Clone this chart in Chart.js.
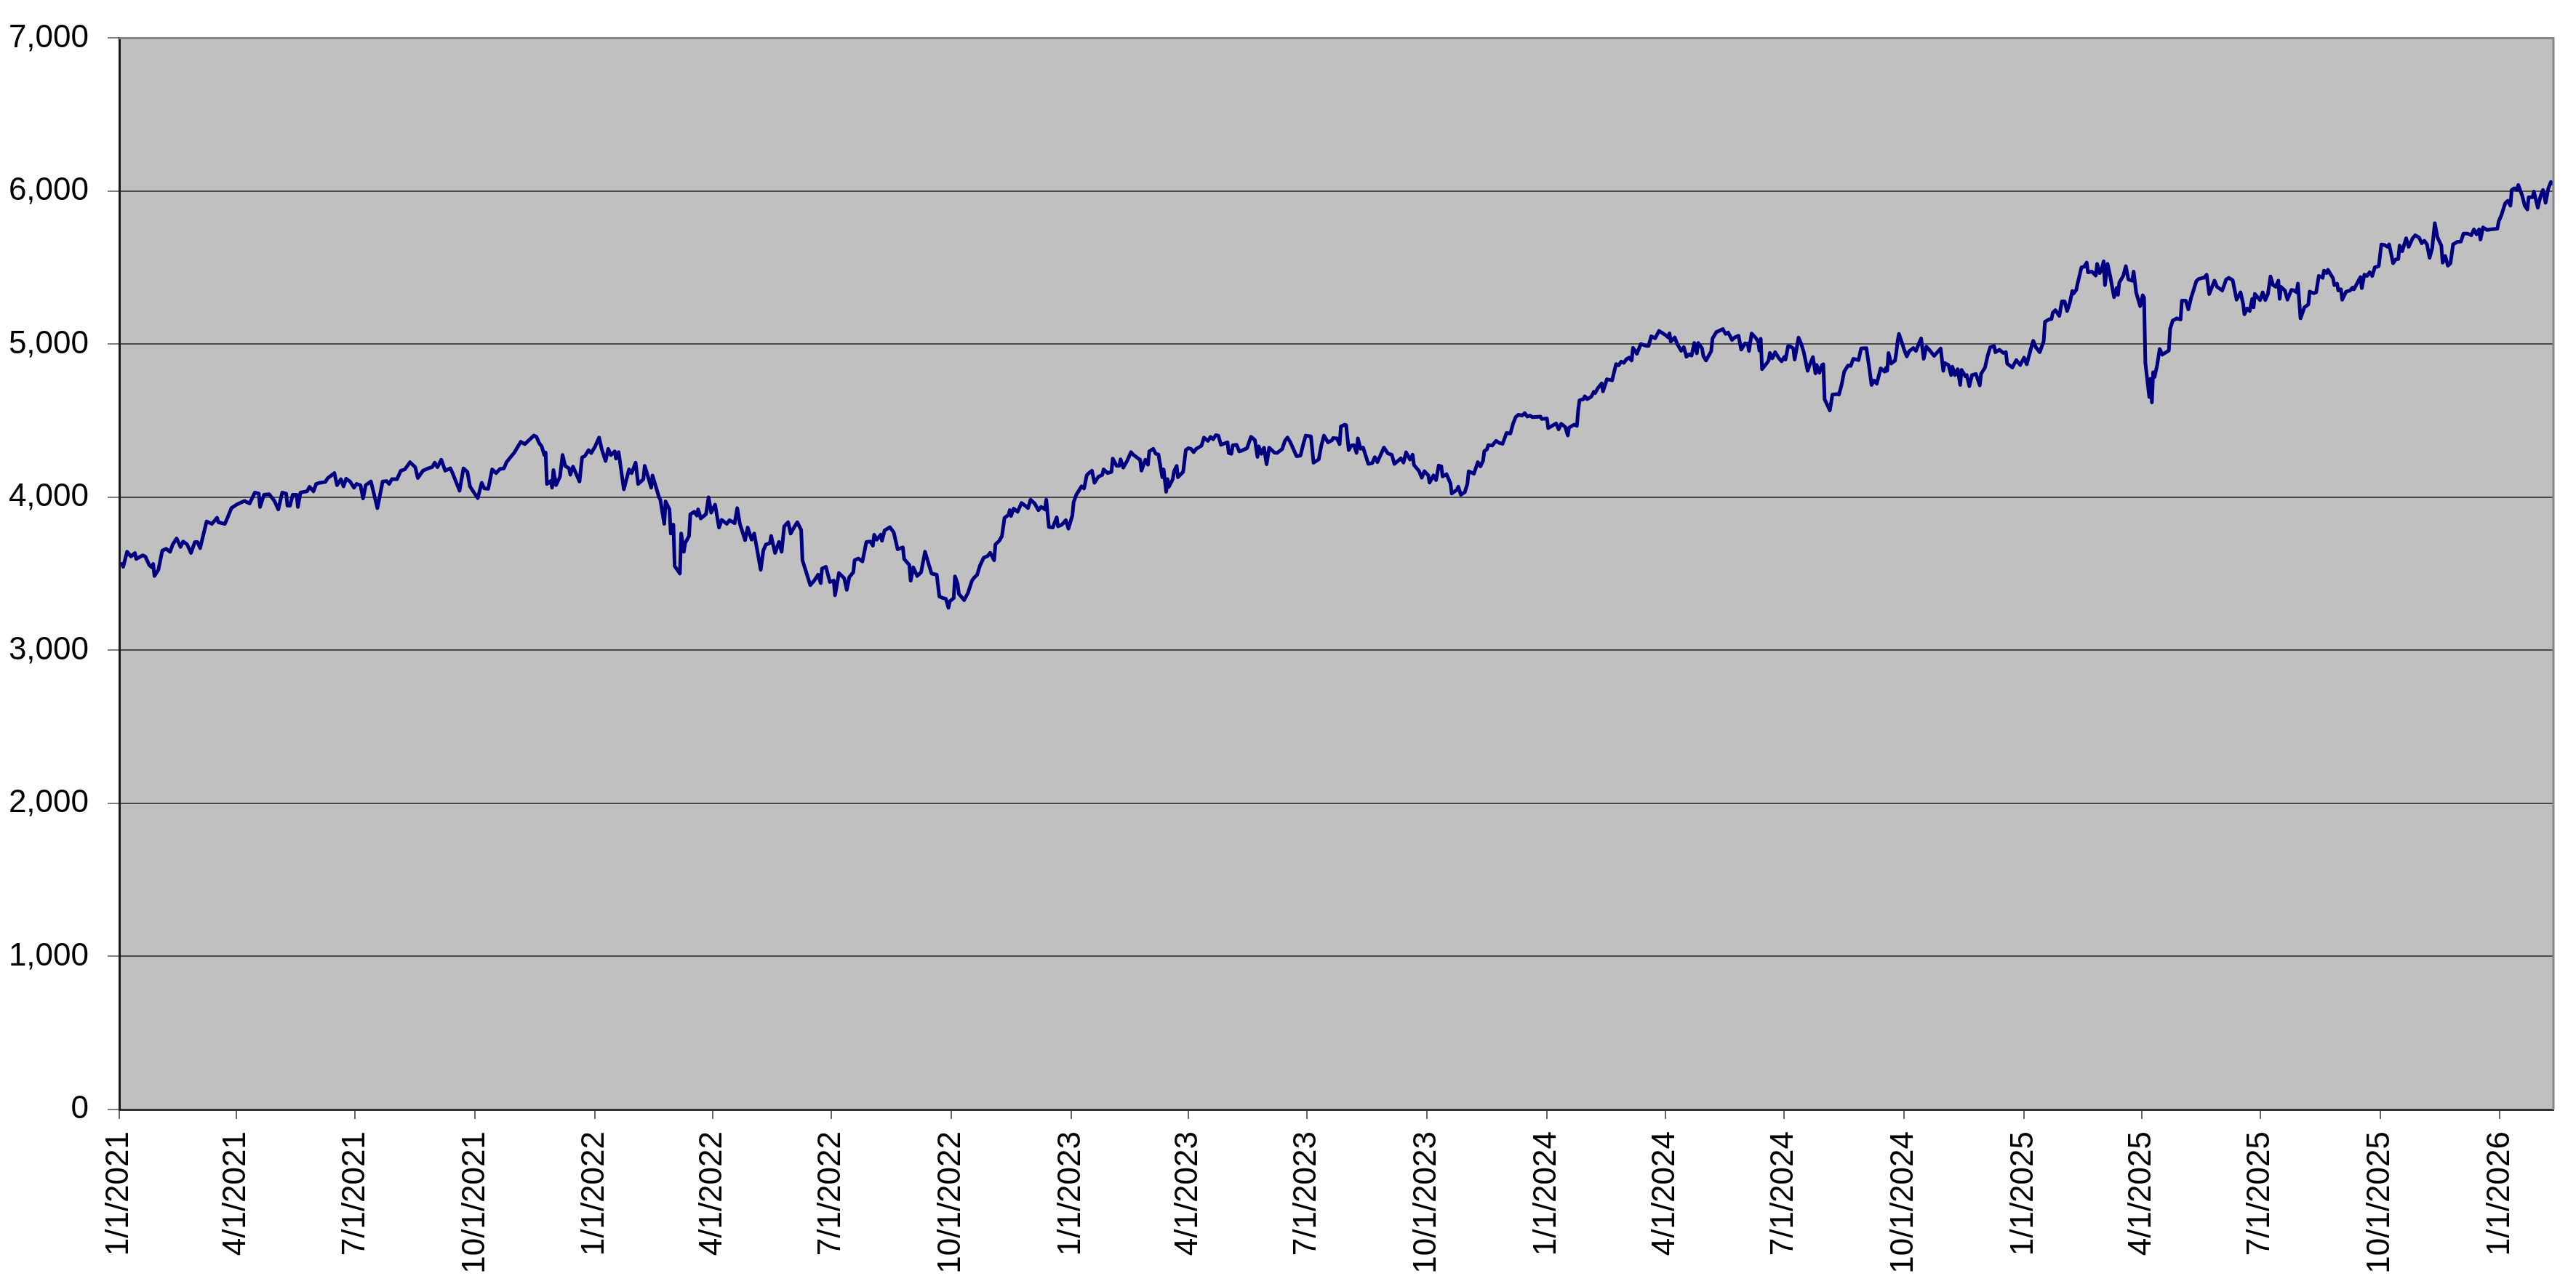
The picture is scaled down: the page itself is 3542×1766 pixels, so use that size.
<!DOCTYPE html>
<html lang="en">
<head>
    <meta charset="UTF-8">
    <title>Index level 2021 - 2026</title>
    <style>
        body {
            margin: 0;
            padding: 0;
            background-color: #ffffff;
        }

        .chart-wrap {
            width: 3542px;
            height: 1766px;
        }
    </style>
</head>
<body>
    <div class="chart-wrap">
        <canvas id="indexChart" width="3542" height="1766"></canvas>
    </div>

    <script src="https://cdn.jsdelivr.net/npm/chart.js"></script>
    <script>
        // trading days, counted in days since 1/1/2021
        const days = [
            2, 3, 6, 9, 12, 13, 18, 20, 23, 25,
            26, 27, 30, 33, 36, 39, 41, 44, 47, 49,
            52, 55, 58, 60, 62, 67, 71, 75, 76, 81,
            83, 86, 90, 96, 100, 104, 107, 108, 111, 115,
            119, 122, 125, 128, 129, 131, 133, 136, 137, 139,
            144, 146, 149, 151, 154, 158, 160, 165, 167, 170,
            172, 174, 177, 180, 182, 185, 187, 189, 193, 198,
            202, 205, 207, 209, 213, 216, 219, 223, 227, 229,
            233, 237, 240, 242, 244, 247, 250, 254, 256, 261,
            264, 267, 269, 272, 275, 278, 280, 283, 286, 289,
            292, 295, 297, 300, 303, 308, 311, 315,

            318, 320, 322, 324, 326, 327, 328, 331, 332, 333,
            335, 338, 340, 342, 345, 346, 348, 353, 355, 357,
            360, 362, 365, 368, 370, 373, 375, 377, 380, 381,
            383, 387, 391, 393, 396, 398, 402, 403, 406, 408,
            409, 414, 415, 418, 419, 422, 423, 425, 426, 430,
            431, 433, 434, 437, 438, 441, 443, 444, 446, 450,
            452, 454, 457, 460, 462, 466, 468, 472, 474, 476,
            480, 482, 485, 487, 492, 494, 496, 499, 500, 503,
            506, 508, 510, 513, 515, 517, 520, 523, 524, 530,
            533, 536, 538, 539, 542, 545, 548, 549, 552, 556,
            558, 560, 563, 564, 567, 570, 573, 576, 578, 579,
            581, 584, 585, 587, 591, 594, 597, 601, 602, 606,
            607, 609, 612, 615, 618, 623,

            627, 629, 632, 634, 636, 637, 640, 641, 643, 644,
            648, 651, 654, 656, 658, 660, 663, 666, 668, 671,
            672, 675, 677, 679, 682, 683, 684, 686, 689, 692,
            695, 697, 699, 702, 705, 707, 710, 711, 713, 716,
            719, 720, 723, 726, 728, 731, 732, 734, 736, 738,
            740, 742, 743, 746, 748, 751, 754, 755, 758, 761,
            762, 765, 767, 768, 770, 773, 776, 778, 781, 783,
            784, 787, 789, 790, 793, 795, 797, 800, 801, 803,
            804, 805, 808, 809, 811, 812, 816, 818, 820, 822,
            824, 826, 830, 832, 835, 837, 839, 841, 843, 845,
            850, 851, 853, 854, 857, 859, 861, 865, 868, 871,
            873, 874, 876, 878, 880, 882, 886, 888, 892, 894,
            896, 898, 903, 906, 908, 910, 914, 916, 920, 922,
            924, 927, 930, 931, 934, 936, 937, 940,

            941, 943, 945, 947, 949, 950, 952, 954, 958, 961,
            963, 965, 970, 973, 976, 978, 983, 985, 987, 990,
            992, 993, 997, 999, 1001, 1004, 1005, 1008, 1010, 1012,
            1014, 1015, 1018, 1021, 1022, 1026, 1027, 1029, 1032, 1034,
            1035, 1039, 1042, 1044, 1046, 1047, 1049, 1050, 1053, 1056,
            1058, 1061, 1064, 1067, 1069, 1071, 1073, 1076, 1078, 1080,
            1082, 1084, 1090, 1091, 1095, 1096, 1102, 1104, 1106, 1109,
            1111, 1112, 1116, 1118, 1119, 1120, 1123, 1124, 1126, 1129,
            1131, 1132, 1134, 1137, 1138, 1141, 1145, 1148, 1150, 1152,
            1154, 1156, 1158, 1160, 1161, 1164, 1167, 1171, 1173, 1175,
            1178, 1181, 1186, 1188, 1189, 1190, 1193, 1195, 1198, 1200,
            1202, 1204, 1206, 1208, 1210, 1211, 1214, 1215, 1217, 1221,
            1222, 1225, 1227, 1230, 1232, 1234, 1237, 1239, 1242, 1244,
            1247,

            1249, 1250, 1252, 1255, 1257, 1258, 1259, 1260, 1264, 1265,
            1266, 1268, 1270, 1273, 1275, 1277, 1278, 1280, 1282, 1284,
            1285, 1288, 1290, 1292, 1295, 1296, 1299, 1301, 1302, 1304,
            1306, 1307, 1308, 1312, 1314, 1318, 1319, 1321, 1323, 1326,
            1328, 1330, 1334, 1336, 1340, 1342, 1344, 1346, 1348, 1351,
            1354, 1355, 1356, 1357, 1359, 1362, 1363, 1364, 1365, 1368,
            1369, 1371, 1373, 1376, 1378, 1381, 1382, 1384, 1386, 1389,
            1392, 1397, 1399, 1400, 1403, 1405, 1406, 1408, 1410, 1412,
            1413, 1416, 1417, 1419, 1421, 1424, 1427, 1428, 1431, 1433,
            1435, 1438, 1439, 1442, 1445, 1447, 1448, 1452, 1455, 1458,
            1461, 1463, 1466, 1468, 1470, 1473, 1476, 1477, 1480, 1482,
            1483, 1485, 1488, 1490, 1492, 1494, 1496, 1498, 1499, 1501,
            1502, 1505, 1507, 1509, 1510, 1513, 1516, 1517, 1519, 1520,
            1522, 1523, 1525, 1527, 1530, 1532, 1533, 1534, 1537, 1539,
            1541, 1544, 1545, 1547, 1550, 1552, 1553, 1554, 1557, 1558,
            1559,

            1560, 1561, 1563, 1565, 1567, 1570, 1572, 1573, 1575, 1578,
            1581, 1582, 1585, 1587, 1589, 1591, 1593, 1595, 1598, 1599,
            1601, 1603, 1607, 1609, 1613, 1616, 1618, 1621, 1624, 1627,
            1629, 1630, 1632, 1634, 1636, 1637, 1638, 1642, 1644, 1646,
            1648, 1650, 1652, 1654, 1656, 1657, 1658, 1661, 1663, 1666,
            1668, 1670, 1671, 1673, 1676, 1679, 1680, 1683, 1685, 1687,
            1690, 1691, 1693, 1694, 1698, 1699, 1701, 1702, 1704, 1705,
            1708, 1711, 1713, 1714, 1717, 1719, 1720, 1722, 1724, 1726,
            1728, 1730, 1733, 1735, 1737, 1740, 1741, 1744, 1746, 1748,
            1749, 1751, 1754, 1756, 1759, 1761, 1764, 1766, 1768, 1770,
            1772, 1774, 1776, 1778, 1781, 1782, 1784, 1786, 1788, 1790,
            1793, 1796, 1798, 1801, 1804, 1806, 1808, 1810, 1811, 1813,
            1816, 1819, 1824, 1825, 1827, 1830, 1832, 1834, 1835, 1837,
            1839, 1840, 1843, 1845, 1847, 1848, 1851, 1852, 1855, 1857,
            1859, 1861, 1863, 1865, 1867
        ];

        const values = [
            3565, 3546, 3644, 3613, 3636, 3597, 3621, 3613, 3557, 3542,
            3565, 3486, 3526, 3652, 3663, 3644, 3692, 3731, 3676, 3711,
            3692, 3636, 3708, 3708, 3668, 3842, 3826, 3866, 3837, 3826,
            3866, 3929, 3952, 3976, 3960, 4031, 4024, 3937, 4016, 4020,
            3976, 3921, 4031, 4024, 3945, 3945, 4016, 4016, 3937, 4031,
            4039, 4068, 4039, 4087, 4095, 4100, 4126, 4158, 4079, 4118,
            4071, 4121, 4103, 4063, 4087, 4079, 3992, 4079, 4103, 3929,
            4103, 4106, 4087, 4118, 4118, 4174, 4182, 4229, 4197, 4126,
            4174, 4189, 4197, 4226, 4197, 4245, 4174, 4189, 4150, 4043,
            4189, 4166, 4071, 4031, 3995, 4095, 4058, 4055, 4182, 4158,
            4185, 4189, 4229, 4261, 4292, 4363, 4347, 4379,

            4403, 4395, 4355, 4332, 4276, 4292, 4087, 4106, 4063, 4178,
            4079, 4134, 4276, 4205, 4189, 4147, 4200, 4103, 4261, 4268,
            4308, 4289, 4332, 4390, 4316, 4237, 4316, 4276, 4300, 4253,
            4295, 4052, 4182, 4158, 4226, 4087, 4118, 4205, 4121, 4063,
            4142, 4000, 3984, 3826, 3973, 3921, 3763, 3821, 3550, 3502,
            3763, 3644, 3700, 3747, 3889, 3905, 3881, 3921, 3862, 3889,
            4000, 3900, 3952, 3802, 3852, 3826, 3850, 3831, 3929, 3826,
            3720, 3802, 3723, 3763, 3526, 3652, 3692, 3700, 3747, 3636,
            3708, 3644, 3810, 3837, 3763, 3795, 3837, 3787, 3589, 3426,
            3455, 3494, 3439, 3534, 3546, 3447, 3455, 3360, 3505, 3471,
            3395, 3479, 3510, 3589, 3600, 3581, 3708, 3711, 3684, 3755,
            3723, 3755, 3716, 3783, 3805, 3771, 3660, 3673, 3597, 3557,
            3455, 3542, 3486, 3510, 3644, 3502,

            3494, 3352, 3341, 3336, 3278, 3320, 3341, 3483, 3436, 3368,
            3328, 3376, 3455, 3478, 3494, 3550, 3605, 3616, 3637, 3589,
            3692, 3716, 3747, 3866, 3885, 3916, 3878, 3926, 3905, 3963,
            3944, 3929, 3984, 3960, 3916, 3937, 3921, 3984, 3806, 3802,
            3869, 3810, 3821, 3850, 3795, 3881, 3968, 4016, 4043, 4071,
            4058, 4142, 4153, 4174, 4095, 4134, 4147, 4182, 4158, 4166,
            4253, 4205, 4205, 4248, 4194, 4237, 4295, 4276, 4257, 4245,
            4174, 4245, 4213, 4300, 4316, 4284, 4280, 4131, 4182, 4036,
            4118, 4068, 4118, 4169, 4205, 4131, 4166, 4308, 4321, 4316,
            4295, 4316, 4336, 4390, 4368, 4395, 4379, 4406, 4403, 4343,
            4359, 4289, 4284, 4339, 4343, 4300, 4305, 4321, 4395, 4374,
            4264, 4332, 4284, 4324, 4216, 4324, 4292, 4289, 4316, 4368,
            4390, 4363, 4268, 4273, 4343, 4403, 4398, 4226, 4248, 4339,
            4403, 4359, 4371, 4387, 4384, 4347, 4463, 4474,

            4471, 4309, 4338, 4341, 4290, 4385, 4317, 4325, 4218, 4223,
            4262, 4230, 4325, 4286, 4278, 4218, 4254, 4227, 4294, 4246,
            4278, 4211, 4170, 4128, 4170, 4143, 4096, 4143, 4112, 4207,
            4202, 4136, 4151, 4091, 4025, 4049, 4069, 4017, 4033, 4088,
            4170, 4154, 4230, 4202, 4238, 4302, 4313, 4341, 4338, 4369,
            4357, 4349, 4420, 4417, 4480, 4523, 4539, 4534, 4550, 4527,
            4534, 4523, 4527, 4512, 4515, 4452, 4483, 4444, 4480, 4460,
            4404, 4455, 4475, 4467, 4570, 4633, 4641, 4660, 4641, 4657,
            4689, 4681, 4712, 4744, 4692, 4771, 4764, 4870, 4862, 4886,
            4878, 4902, 4913, 4894, 4976, 4938, 5001, 4989, 4989, 5052,
            5039, 5087, 5060, 5044, 5071, 5017, 5044, 5001, 4957, 4981,
            4918, 4934, 4926, 5008, 4941, 5008, 4973, 4922, 4894, 4954,
            5036, 5080, 5087, 5099, 5068, 5076, 5028, 5044, 5055, 4965,
            5005,

            5003, 4956, 5070, 5043, 5019, 4959, 5035, 4837, 4880, 4893,
            4943, 4908, 4948, 4908, 4889, 4916, 4900, 4988, 4984, 4972,
            4900, 5043, 5003, 4948, 4826, 4853, 4916, 4810, 4864, 4813,
            4864, 4869, 4640, 4568, 4671, 4674, 4671, 4734, 4821, 4861,
            4858, 4905, 4896, 4972, 4975, 4861, 4734, 4763, 4742, 4842,
            4821, 4845, 4826, 4943, 4874, 4893, 4948, 5022, 5067, 4991,
            4964, 4921, 4956, 4975, 4956, 5019, 5038, 4905, 4984, 4956,
            4924, 4972, 4826, 4877, 4864, 4798, 4853, 4798, 4837, 4734,
            4832, 4790, 4798, 4726, 4798, 4806, 4731, 4806, 4848, 4924,
            4980, 4988, 4948, 4964, 4943, 4948, 4874, 4848, 4896, 4864,
            4912, 4869, 4964, 5022, 4980, 4948, 5019, 5146, 5162, 5165,
            5206, 5222, 5185, 5280, 5280, 5217, 5269, 5348, 5332, 5355,
            5396, 5502, 5506, 5533, 5470, 5475, 5449, 5525, 5465, 5475,
            5541, 5386, 5525, 5446, 5307, 5367, 5323, 5402, 5446, 5510,
            5423, 5415, 5475, 5336, 5249, 5320, 5304, 4877, 4655, 4774,
            4620,

            4817, 4785, 4861, 4969, 4932, 4948, 4959, 5101, 5154, 5169,
            5162, 5285, 5285, 5228, 5301, 5355, 5411, 5427, 5434, 5434,
            5454, 5328, 5415, 5375, 5351, 5423, 5434, 5418, 5291, 5339,
            5264, 5196, 5233, 5217, 5296, 5241, 5328, 5288, 5339, 5288,
            5328, 5443, 5386, 5375, 5415, 5296, 5375, 5351, 5291, 5355,
            5351, 5339, 5396, 5169, 5241, 5260, 5344, 5333, 5339, 5446,
            5434, 5481, 5465, 5486, 5430, 5386, 5396, 5351, 5359, 5291,
            5343, 5351, 5370, 5359, 5407, 5438, 5367, 5454, 5446, 5470,
            5446, 5502, 5510, 5652, 5649, 5636, 5652, 5529, 5554, 5557,
            5644, 5608, 5692, 5636, 5692, 5712, 5696, 5660, 5676, 5652,
            5565, 5628, 5791, 5699, 5644, 5533, 5576, 5513, 5529, 5652,
            5668, 5671, 5723, 5723, 5712, 5750, 5718, 5750, 5684, 5763,
            5747, 5750, 5755, 5802, 5842, 5921, 5937, 5905, 6008, 6019,
            6008, 6040, 5972, 5905, 5881, 5960, 5960, 5997, 5892, 5965,
            6008, 5924, 6016, 6060, 6047
        ];

        const tickLabels = [
            '1/1/2021', '4/1/2021', '7/1/2021', '10/1/2021',
            '1/1/2022', '4/1/2022', '7/1/2022', '10/1/2022',
            '1/1/2023', '4/1/2023', '7/1/2023', '10/1/2023',
            '1/1/2024', '4/1/2024', '7/1/2024', '10/1/2024',
            '1/1/2025', '4/1/2025', '7/1/2025', '10/1/2025',
            '1/1/2026'
        ];

        const yTicks = [0, 1000, 2000, 3000, 4000, 5000, 6000, 7000];

        // day offset of each date label
        const start = Date.UTC(2021, 0, 1);
        const tickDays = tickLabels.map(function (s) {
            const p = s.split('/').map(Number);
            return Math.round((Date.UTC(p[2], p[0] - 1, p[1]) - start) / 86400000);
        });

        const n = Math.min(days.length, values.length);
        const points = [];
        for (let i = 0; i < n; i++) {
            points.push({ x: days[i], y: values[i] });
        }

        const labelFont = { family: "'Liberation Sans', Arial, sans-serif", size: 44 };

        // grey plot area, plus the light top and right edges
        const plotFrame = {
            id: 'plotFrame',
            beforeDraw(chart) {
                const a = chart.chartArea;
                const ctx = chart.ctx;
                ctx.save();
                ctx.fillStyle = '#c0c0c0';
                ctx.fillRect(a.left, a.top, a.right - a.left, a.bottom - a.top);
                ctx.restore();
            },
            afterDraw(chart) {
                const a = chart.chartArea;
                const ctx = chart.ctx;
                ctx.save();
                ctx.strokeStyle = '#868686';
                ctx.lineWidth = 3;
                ctx.beginPath();
                ctx.moveTo(a.left, a.top);
                ctx.lineTo(a.right, a.top);
                ctx.lineTo(a.right, a.bottom);
                ctx.stroke();
                ctx.restore();
            }
        };

        const config = {
            type: 'line',
            data: {
                datasets: [{
                    label: 'Index',
                    data: points,
                    borderColor: '#000080',
                    borderWidth: 5,
                    borderJoinStyle: 'round',
                    borderCapStyle: 'round',
                    pointRadius: 0,
                    tension: 0,
                    fill: false
                }]
            },
            options: {
                responsive: false,
                animation: false,
                devicePixelRatio: 1,
                layout: {
                    padding: { top: 48, right: 31, left: 0, bottom: 0 }
                },
                plugins: {
                    legend: { display: false },
                    tooltip: { enabled: false }
                },
                scales: {
                    x: {
                        type: 'linear',
                        min: 0,
                        max: days[n - 1],
                        afterBuildTicks: function (axis) {
                            axis.ticks = tickDays.map(function (v) { return { value: v }; });
                        },
                        ticks: {
                            autoSkip: false,
                            minRotation: 90,
                            maxRotation: 90,
                            padding: 17,
                            color: '#000000',
                            font: labelFont,
                            callback: function (value) {
                                return tickLabels[tickDays.indexOf(value)];
                            }
                        },
                        grid: {
                            drawOnChartArea: false,
                            drawTicks: true,
                            tickLength: 13,
                            color: '#666666',
                            lineWidth: 2
                        },
                        border: { color: '#333333', width: 3 },
                        afterFit: function (axis) { axis.height = 240; }
                    },
                    y: {
                        min: 0,
                        max: 7000,
                        afterBuildTicks: function (axis) {
                            axis.ticks = yTicks.map(function (v) { return { value: v }; });
                        },
                        ticks: {
                            padding: 26,
                            color: '#000000',
                            font: labelFont,
                            callback: function (value) {
                                return value.toLocaleString('en-US');
                            }
                        },
                        grid: {
                            color: '#4a4a4a',
                            lineWidth: 2,
                            tickLength: 16,
                            tickColor: '#808080'
                        },
                        border: { color: '#1a1a1a', width: 3 },
                        afterFit: function (axis) { axis.width = 164; }
                    }
                }
            },
            plugins: [plotFrame]
        };

        window.onload = function () {
            const ctx = document.getElementById('indexChart').getContext('2d');
            new Chart(ctx, config);
        };
    </script>
</body>
</html>
